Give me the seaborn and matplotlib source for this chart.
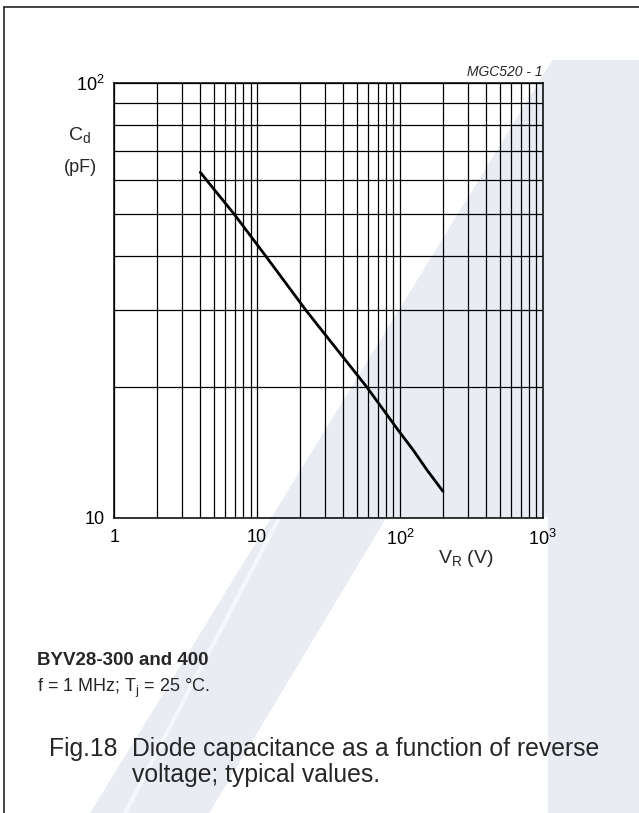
import matplotlib
matplotlib.use("Agg")
import matplotlib.pyplot as plt
import seaborn as sns
from matplotlib.patches import Polygon
from matplotlib.lines import Line2D
from matplotlib.ticker import FixedLocator, LogLocator, NullFormatter

# Values (BYV28-300/400, f = 1 MHz)
vr_volts = [4.0, 4.4, 6.9, 11.5, 22.0, 58.5, 100, 124, 154, 200]
cd_pf = [62.4, 60, 50, 40, 30, 20, 15.7, 14.3, 12.9, 11.5]

x_ticks = [1, 10, 100, 1000]
x_tick_labels = ["1", "10", r"$\mathregular{10^2}$", r"$\mathregular{10^3}$"]
y_ticks = [10, 100]
y_tick_labels = ["10", r"$\mathregular{10^2}$"]

sns.set_style("white")
plt.rcParams["font.family"] = ["Liberation Sans", "DejaVu Sans"]
plt.rcParams["mathtext.fontset"] = "custom"
plt.rcParams["mathtext.rm"] = "Liberation Sans"
plt.rcParams["mathtext.it"] = "Liberation Sans:italic"
plt.rcParams["mathtext.bf"] = "Liberation Sans:bold"

W, H = 639, 813
fig = plt.figure(figsize=(W / 100, H / 100), dpi=100)
fig.patch.set_facecolor("white")


def px(x, y):
    # pixel position (y down) -> figure fraction
    return (x / W, 1 - y / H)


# faint watermark in the background
wm = "#eaecf4"
def left_edge(y):
    return 90 + (813 - y) * 0.614

def right_edge(y):
    return 343 + (590 - y) * 0.6

shape = [(left_edge(60), 60), (639, 60), (639, 813), (548, 813), (548, 517),
         (right_edge(517), 517), (right_edge(813), 813), (left_edge(813), 813)]
fig.patches.append(Polygon([px(*p) for p in shape], closed=True, transform=fig.transFigure,
                           facecolor=wm, edgecolor="none", zorder=-5))
# thin light streak inside the diagonal band
fig.add_artist(Line2D([125 / W, 278 / W], [1 - 813 / H, 1 - 520 / H], transform=fig.transFigure,
                      color="#f6f7fa", lw=3, zorder=-4))

# page frame (top and left edge only)
fig.add_artist(Line2D([4 / W, 1], [1 - 7 / H] * 2, transform=fig.transFigure, color="#222222", lw=1.2))
fig.add_artist(Line2D([4 / W] * 2, [0, 1 - 7 / H], transform=fig.transFigure, color="#222222", lw=1.2))

left, right, top, bottom = 114.3, 542.8, 83.3, 517.7
ax = fig.add_axes([left / W, 1 - bottom / H, (right - left) / W, (bottom - top) / H])
ax.set_facecolor("none")
ax.set_zorder(2)

sns.lineplot(x=vr_volts, y=cd_pf, ax=ax, color="black", lw=2.0, zorder=5)

ax.set_xscale("log")
ax.set_yscale("log")
ax.set_xlim(1, 1000)
ax.set_ylim(10, 100)
ax.xaxis.set_major_locator(FixedLocator(x_ticks))
ax.xaxis.set_minor_locator(LogLocator(base=10, subs=range(2, 10)))
ax.yaxis.set_major_locator(FixedLocator(y_ticks))
ax.yaxis.set_minor_locator(LogLocator(base=10, subs=range(2, 10)))
ax.xaxis.set_minor_formatter(NullFormatter())
ax.yaxis.set_minor_formatter(NullFormatter())
ax.set_xticklabels(x_tick_labels)
ax.set_yticklabels(y_tick_labels)
ax.grid(True, which="both", color="black", lw=0.9)
ax.tick_params(which="both", length=0, labelsize=13, colors="black")
ax.tick_params(axis="x", pad=8)
ax.tick_params(axis="y", pad=7)
for s in ax.spines.values():
    s.set_color("black")
    s.set_linewidth(1.1)
ax.set_xlabel("")
ax.set_ylabel("")

# axis titles and annotations
fig.text(*px(543, 76), "MGC520 - 1", ha="right", va="baseline", fontsize=10, style="italic")
fig.text(*px(80, 140), r"$\mathregular{C_d}$", ha="center", va="baseline", fontsize=14)
fig.text(*px(80, 172), "(pF)", ha="center", va="baseline", fontsize=13)
fig.text(*px(466, 563), r"$\mathregular{V_R}$ (V)", ha="center", va="baseline", fontsize=14)

fig.text(*px(37, 665), "BYV28-300 and 400", ha="left", va="baseline", fontsize=13.5, weight="bold")
fig.text(*px(37, 692), r"f = 1 MHz; $\mathregular{T_j}$ = 25 °C.", ha="left", va="baseline", fontsize=13)

fig.text(*px(49, 756), "Fig.18", ha="left", va="baseline", fontsize=17.8)
fig.text(*px(132, 756), "Diode capacitance as a function of reverse", ha="left", va="baseline", fontsize=17.8)
fig.text(*px(132, 782), "voltage; typical values.", ha="left", va="baseline", fontsize=17.8)

fig.savefig("out.png", dpi=100)
